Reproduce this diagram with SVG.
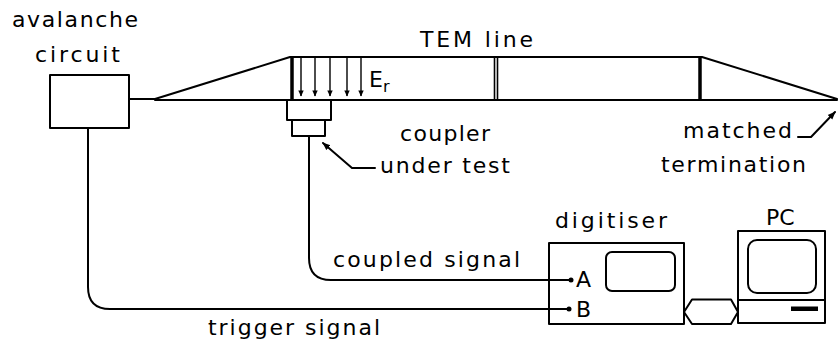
<svg xmlns="http://www.w3.org/2000/svg" width="839" height="348" viewBox="0 0 839 348">
  <style>
    .ln { fill: none; stroke: #000; stroke-width: 2; stroke-linecap: round; stroke-linejoin: round; }
    .thin { fill: none; stroke: #000; stroke-width: 1.6; }
    .thick { stroke: #000; stroke-width: 3.5; }
    .lbl { font-family: "DejaVu Sans", "Liberation Sans", sans-serif; font-size: 22px; fill: #000; }
    .dot { fill: #000; }
  </style>
  <defs>
    <marker id="head" viewBox="0 0 10 10" refX="9" refY="5" markerWidth="8" markerHeight="8" markerUnits="userSpaceOnUse" orient="auto">
      <path d="M0,1 L10,5 L0,9 Z" fill="#000"/>
    </marker>
    <marker id="fieldHead" viewBox="0 0 10 10" refX="9" refY="5" markerWidth="7" markerHeight="6" markerUnits="userSpaceOnUse" orient="auto">
      <path d="M0,0.5 L10,5 L0,9.5 Z" fill="#000"/>
    </marker>
  </defs>

  <!-- pulse source -->
  <g id="avalanche">
    <rect class="ln" x="50" y="75" width="79" height="53"/>
    <text class="lbl" x="12" y="27" textLength="126" lengthAdjust="spacing">avalanche</text>
    <text class="lbl" x="35" y="62" textLength="85" lengthAdjust="spacing">circuit</text>
  </g>

  <!-- tapered TEM cell -->
  <g id="tem-line">
    <path class="ln" d="M155,99 L290,57 H702 L837,99"/>
    <path class="ln" d="M155,100 H837"/>
    <line class="thick" x1="292" y1="57" x2="292" y2="100"/>
    <line class="thick" x1="700" y1="57" x2="700" y2="100"/>
    <line class="thin" x1="494.5" y1="57" x2="494.5" y2="100"/>
    <line class="thin" x1="497.5" y1="57" x2="497.5" y2="100"/>
    <text class="lbl" x="420" y="47" textLength="113" lengthAdjust="spacing">TEM line</text>
    <g stroke="#000" stroke-width="1.4" marker-end="url(#fieldHead)">
      <line x1="301" y1="58" x2="301" y2="96"/>
      <line x1="315" y1="58" x2="315" y2="96"/>
      <line x1="330" y1="58" x2="330" y2="96"/>
      <line x1="347" y1="58" x2="347" y2="96"/>
      <line x1="361" y1="58" x2="361" y2="96"/>
    </g>
    <text class="lbl" x="369" y="87">E<tspan font-size="16" dy="5">r</tspan></text>
  </g>

  <!-- device under test -->
  <g id="coupler">
    <rect class="ln" x="287" y="100" width="44" height="20"/>
    <rect class="ln" x="292" y="120" width="33" height="16"/>
    <text class="lbl" x="400" y="141" textLength="90" lengthAdjust="spacing">coupler</text>
    <text class="lbl" x="380" y="173" textLength="130" lengthAdjust="spacing">under test</text>
  </g>

  <g id="termination">
    <text class="lbl" x="683" y="138" textLength="109" lengthAdjust="spacing">matched</text>
    <text class="lbl" x="661" y="172" textLength="145" lengthAdjust="spacing">termination</text>
  </g>

  <g id="digitiser">
    <rect class="ln" x="549" y="243" width="135" height="81"/>
    <rect class="ln" x="606" y="252" width="69" height="39" rx="6"/>
    <text class="lbl" x="555" y="228" textLength="112" lengthAdjust="spacing">digitiser</text>
    <text class="lbl" x="576" y="287">A</text>
    <text class="lbl" x="576" y="317">B</text>
  </g>

  <g id="pc">
    <rect class="ln" x="738" y="231" width="87" height="92"/>
    <line class="ln" x1="738" y1="300" x2="825" y2="300"/>
    <rect class="ln" x="748" y="240" width="68" height="53" rx="9"/>
    <rect x="791" y="306.5" width="27" height="4.5" fill="#000"/>
    <text class="lbl" x="766" y="225" font-size="23">PC</text>
  </g>

  <g id="connectors">
    <!-- feed from pulse source into the taper -->
    <line class="ln" x1="129" y1="99" x2="155" y2="99"/>
    <!-- coupled output to channel A -->
    <path class="ln" d="M309,136 V258 Q309,280 331,280 H570"/>
    <circle class="dot" cx="571" cy="280" r="2.5"/>
    <!-- trigger to channel B -->
    <path class="ln" d="M88,128 V287 Q88,309 110,309 H568"/>
    <circle class="dot" cx="569" cy="309" r="2.5"/>
    <!-- data link digitiser <-> PC -->
    <polygon class="ln" stroke-width="2.5" points="684,312 692,299.5 731,299.5 738,312 731,324 692,324"/>
    <!-- leaders -->
    <path class="ln" stroke-width="1.6" d="M375,168 H352 L323,143" marker-end="url(#head)"/>
    <path class="ln" stroke-width="1.6" d="M798,137 H811 L835,112" marker-end="url(#head)"/>
    <text class="lbl" x="333" y="267" textLength="187" lengthAdjust="spacing">coupled signal</text>
    <text class="lbl" x="208" y="335" textLength="172" lengthAdjust="spacing">trigger signal</text>
  </g>
</svg>
